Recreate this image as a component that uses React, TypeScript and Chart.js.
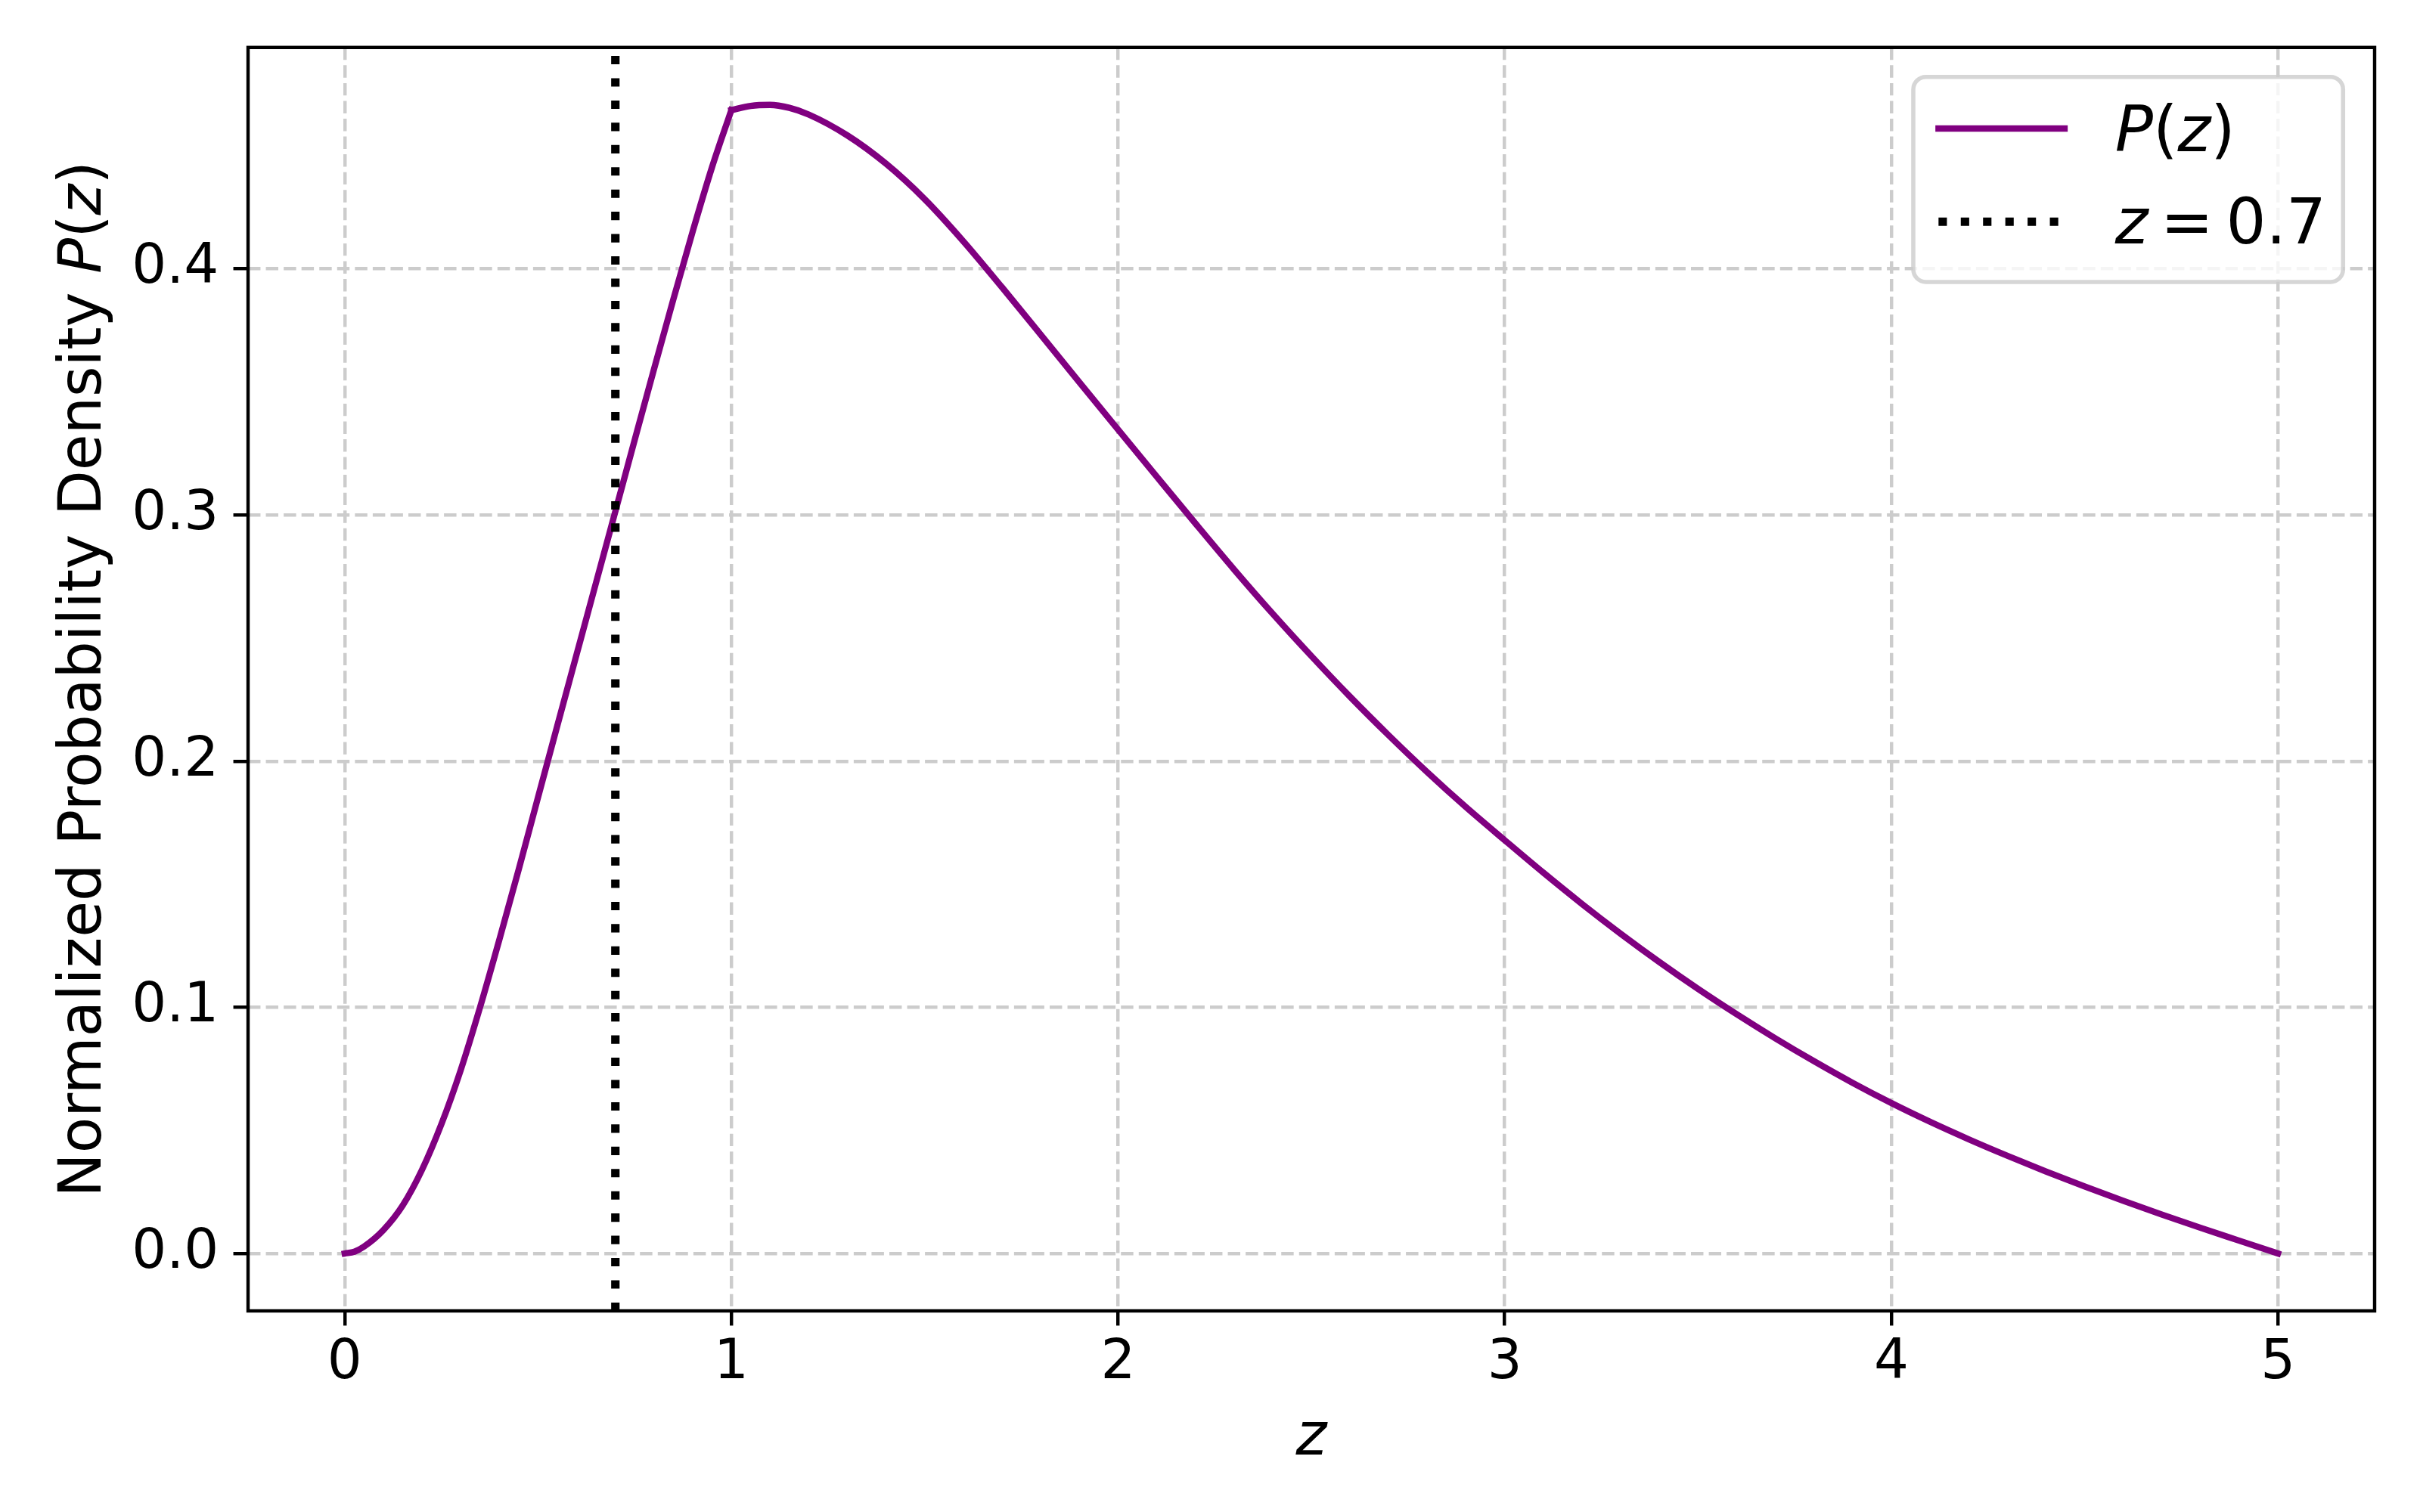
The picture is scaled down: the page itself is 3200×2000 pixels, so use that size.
import React, { useEffect, useRef } from "react";
import { Chart, registerables } from "chart.js";

Chart.register(...registerables);

// ---- data ----
// rising branch (0 <= z <= 1)
const zRise = [0, 0.025, 0.05, 0.1, 0.15, 0.2, 0.25, 0.3, 0.35, 0.4, 0.45, 0.5, 0.55, 0.6, 0.65, 0.7, 0.75, 0.8, 0.85, 0.9, 0.95, 1.0];
const pRise = [0, 0.0007, 0.0028, 0.0095, 0.0195, 0.034, 0.0525, 0.0745, 0.1, 0.1275, 0.156, 0.1853, 0.2145, 0.2435, 0.2725, 0.3015, 0.3305, 0.3593, 0.3876, 0.4152, 0.4413, 0.4645];
// falling branch (1 <= z <= 5)
const zFall = [1.0, 1.05, 1.1, 1.15, 1.2, 1.3, 1.4, 1.5, 1.6, 1.7, 1.8, 1.9, 2.0, 2.1, 2.2, 2.3, 2.4, 2.5, 2.6, 2.7, 2.8, 2.9, 3.0, 3.1, 3.2, 3.3, 3.4, 3.5, 3.6, 3.7, 3.8, 3.9, 4.0, 4.1, 4.2, 4.3, 4.4, 4.5, 4.6, 4.7, 4.8, 4.9, 5.0];
const pFall = [0.4645, 0.4662, 0.4666, 0.4654, 0.4627, 0.4542, 0.4427, 0.4283, 0.4112, 0.3925, 0.3733, 0.3539, 0.3347, 0.3156, 0.2966, 0.2779, 0.2599, 0.2427, 0.2262, 0.2105, 0.1955, 0.1813, 0.1679, 0.1547, 0.142, 0.1299, 0.1184, 0.1075, 0.0972, 0.0874, 0.0781, 0.0693, 0.0611, 0.0535, 0.0464, 0.0397, 0.0333, 0.0272, 0.0214, 0.0158, 0.0104, 0.0052, 0.0];

const vlineZ = 0.7;
const xTickValues = [0, 1, 2, 3, 4, 5];
const xTickLabels = ["0", "1", "2", "3", "4", "5"];
const yTickValues = [0, 0.1, 0.2, 0.3, 0.4];
const yTickLabels = ["0.0", "0.1", "0.2", "0.3", "0.4"];
const xMin = -0.25;
const xMax = 5.25;
const yMin = -0.02333;
const yMax = 0.48993;

const seriesLabel = "P(z)";
const vlineLabel = "z = 0.7";
const yTitlePlain = "Normalized Probability Density";
const yTitleMath = "P(z)";
const xTitleMath = "z";

// ---- styling ----
const FONT = '"DejaVu Sans"';
const PT = 400 / 72;
const gridColor = "#cccccc";
const curveColor = "#800080";

type Seg = { t?: string; italic?: boolean; gap?: boolean };

function mathSegments(label: string): Seg[] {
  const segs: Seg[] = [];
  for (const ch of label) {
    if (ch === " ") segs.push({ gap: true });
    else if (/[A-Za-z]/.test(ch)) segs.push({ t: ch, italic: true });
    else segs.push({ t: ch, italic: false });
  }
  return segs;
}

function fontFor(size: number, italic?: boolean) {
  return `${italic ? "italic " : ""}${size}px ${FONT}`;
}

function measureSegs(ctx: CanvasRenderingContext2D, segs: Seg[], size: number, gapEm = 0.2) {
  let w = 0;
  for (const s of segs) {
    if (s.gap) { w += gapEm * size; continue; }
    ctx.font = fontFor(size, s.italic);
    w += ctx.measureText(s.t as string).width;
  }
  return w;
}

function drawSegs(ctx: CanvasRenderingContext2D, segs: Seg[], x: number, y: number, size: number, gapEm = 0.2) {
  let cx = x;
  ctx.textBaseline = "alphabetic";
  ctx.textAlign = "left";
  for (const s of segs) {
    if (s.gap) { cx += gapEm * size; continue; }
    ctx.font = fontFor(size, s.italic);
    ctx.fillText(s.t as string, cx, y);
    cx += ctx.measureText(s.t as string).width;
  }
  return cx - x;
}

const decorPlugin = {
  id: "mplDecor",
  beforeDraw(chart: any) {
    const ctx = chart.ctx as CanvasRenderingContext2D;
    ctx.save();
    ctx.fillStyle = "#ffffff";
    ctx.fillRect(0, 0, chart.width, chart.height);
    ctx.restore();
  },
  afterDatasetsDraw(chart: any) {
    const ctx = chart.ctx as CanvasRenderingContext2D;
    const a = chart.chartArea;
    ctx.save();
    ctx.strokeStyle = "#000000";
    ctx.lineWidth = 0.8 * PT;
    ctx.lineJoin = "miter";
    ctx.setLineDash([]);
    ctx.strokeRect(a.left, a.top, a.right - a.left, a.bottom - a.top);
    ctx.restore();
  },
  afterDraw(chart: any) {
    const ctx = chart.ctx as CanvasRenderingContext2D;
    const a = chart.chartArea;
    ctx.save();
    ctx.fillStyle = "#000000";

    // axis titles
    const labelSize = 14 * PT;
    const xSegs = mathSegments(xTitleMath);
    const xw = measureSegs(ctx, xSegs, labelSize);
    drawSegs(ctx, xSegs, (a.left + a.right) / 2 - xw / 2, 1924, labelSize);

    ctx.save();
    ctx.translate(133, (a.top + a.bottom) / 2);
    ctx.rotate(-Math.PI / 2);
    const ySegs: Seg[] = [{ t: yTitlePlain + " ", italic: false }, ...mathSegments(yTitleMath)];
    const yw = measureSegs(ctx, ySegs, labelSize);
    drawSegs(ctx, ySegs, -yw / 2, 0, labelSize);
    ctx.restore();

    // legend (matplotlib style, upper right)
    const fs = 15 * PT;
    const boxX = 2530, boxY = 101.7, boxW = 568.3, boxH = 271.3;
    ctx.beginPath();
    (ctx as any).roundRect(boxX, boxY, boxW, boxH, 0.2 * fs);
    ctx.fillStyle = "rgba(255,255,255,0.8)";
    ctx.fill();
    ctx.lineWidth = 1.0 * PT;
    ctx.strokeStyle = "rgba(204,204,204,0.8)";
    ctx.stroke();

    const handleX0 = boxX + 0.4 * fs;
    const handleX1 = handleX0 + 2.0 * fs;
    const textX = handleX1 + 0.8 * fs;
    const rows = [
      { y: 170, base: 200 },
      { y: 293.3, base: 321.7 },
    ];
    const entries = chart.data.datasets.filter((ds: any) => ds.showInLegend);
    entries.forEach((ds: any, i: number) => {
      const r = rows[i];
      if (!r) return;
      ctx.save();
      ctx.beginPath();
      ctx.strokeStyle = ds.borderColor;
      ctx.lineWidth = ds.borderWidth;
      ctx.setLineDash(ds.borderDash || []);
      ctx.lineCap = ds.borderDash ? "butt" : "square";
      ctx.moveTo(handleX0, r.y);
      ctx.lineTo(handleX1, r.y);
      ctx.stroke();
      ctx.restore();
      ctx.fillStyle = "#000000";
      drawSegs(ctx, mathSegments(ds.label), textX, r.base, fs);
    });
    ctx.restore();
  },
};

export default function App() {
  const canvasRef = useRef<HTMLCanvasElement | null>(null);

  useEffect(() => {
    const canvas = canvasRef.current;
    if (!canvas) return;
    const rise = zRise.map((z, i) => ({ x: z, y: pRise[i] }));
    const fall = zFall.map((z, i) => ({ x: z, y: pFall[i] }));
    const vline = [
      { x: vlineZ, y: yMin },
      { x: vlineZ, y: yMax },
    ];
    const tickFont = { family: "DejaVu Sans", size: 13 * PT };
    const curveStyle = {
      borderColor: curveColor,
      borderWidth: 1.5 * PT,
      pointRadius: 0,
      cubicInterpolationMode: "monotone",
      fill: false,
      borderCapStyle: "square",
      borderJoinStyle: "round",
      order: 1,
    };
    const chart = new Chart(canvas, {
      type: "line",
      data: {
        datasets: [
          { label: seriesLabel, data: rise, showInLegend: true, ...curveStyle },
          { label: seriesLabel, data: fall, showInLegend: false, ...curveStyle },
          {
            label: vlineLabel,
            data: vline,
            showInLegend: true,
            borderColor: "#000000",
            borderWidth: 2 * PT,
            borderDash: [2 * PT, 1.65 * 2 * PT],
            borderCapStyle: "butt",
            pointRadius: 0,
            tension: 0,
            fill: false,
            order: 0,
          },
        ],
      } as any,
      options: {
        responsive: false,
        maintainAspectRatio: false,
        animation: false,
        events: [],
        layout: { padding: { left: 0, right: 60, top: 60, bottom: 0 } },
        plugins: {
          legend: { display: false },
          tooltip: { enabled: false },
          title: { display: false },
        },
        scales: {
          x: {
            type: "linear",
            min: xMin,
            max: xMax,
            afterFit: (s: any) => { s.height = 266; },
            afterBuildTicks: (s: any) => { s.ticks = xTickValues.map((v) => ({ value: v })); },
            ticks: {
              callback: (_v: any, i: number) => xTickLabels[i],
              font: tickFont,
              color: "#000000",
              padding: 7.5,
              autoSkip: false,
              maxRotation: 0,
              minRotation: 0,
            },
            grid: {
              color: gridColor,
              lineWidth: 0.8 * PT,
              drawTicks: true,
              tickLength: 3.5 * PT,
              tickColor: "#000000",
              tickWidth: 0.8 * PT,
              tickBorderDash: [],
            },
            border: { display: false, dash: [3.7 * 0.8 * PT, 1.6 * 0.8 * PT] },
            title: { display: false },
          },
          y: {
            type: "linear",
            min: yMin,
            max: yMax,
            afterFit: (s: any) => { s.width = 328; },
            afterBuildTicks: (s: any) => { s.ticks = yTickValues.map((v) => ({ value: v })); },
            ticks: {
              callback: (_v: any, i: number) => yTickLabels[i],
              font: tickFont,
              color: "#000000",
              padding: 3.5 * PT,
              autoSkip: false,
            },
            grid: {
              color: gridColor,
              lineWidth: 0.8 * PT,
              drawTicks: true,
              tickLength: 3.5 * PT,
              tickColor: "#000000",
              tickWidth: 0.8 * PT,
              tickBorderDash: [],
            },
            border: { display: false, dash: [3.7 * 0.8 * PT, 1.6 * 0.8 * PT] },
            title: { display: false },
          },
        },
      } as any,
      plugins: [decorPlugin as any],
    });
    return () => chart.destroy();
  }, []);

  return (
    <div style={{ position: "absolute", left: 0, top: 0, width: 3200, height: 2000, background: "#ffffff" }}>
      <canvas ref={canvasRef} width={3200} height={2000} style={{ width: 3200, height: 2000, display: "block" }} />
    </div>
  );
}
